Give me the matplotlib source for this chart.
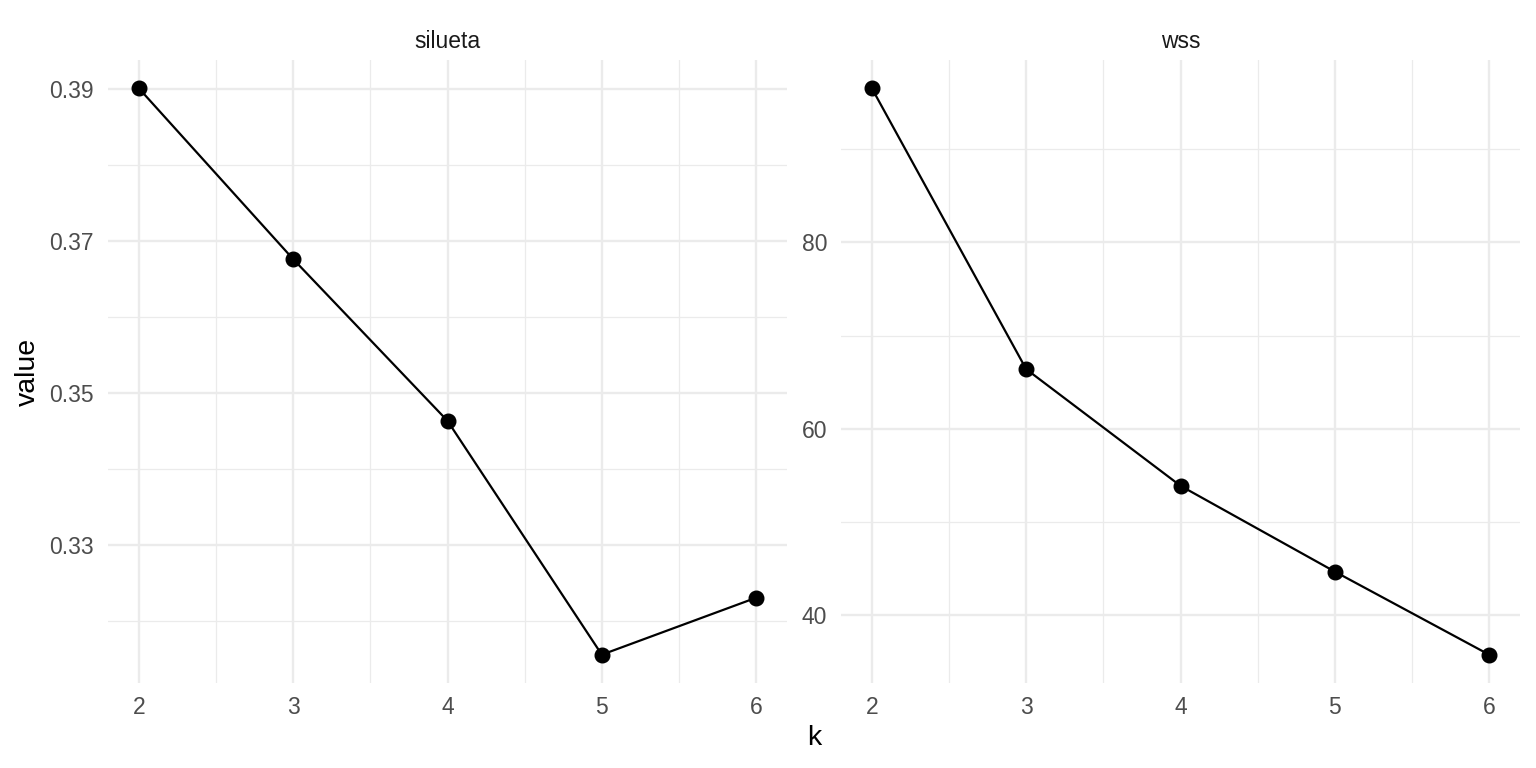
import matplotlib
matplotlib.use("Agg")
import matplotlib.pyplot as plt
from matplotlib.ticker import FixedLocator

plt.rcParams['font.family'] = ['Liberation Sans', 'DejaVu Sans']

k = [2, 3, 4, 5, 6]
silueta = [0.3901, 0.3676, 0.3463, 0.3155, 0.3230]
wss = [96.5, 66.4, 53.9, 44.7, 35.8]

panels = [
    ("silueta", silueta, [0.33, 0.35, 0.37, 0.39], [0.32, 0.34, 0.36, 0.38],
     ["0.33", "0.35", "0.37", "0.39"]),
    ("wss", wss, [40, 60, 80], [50, 70, 90], ["40", "60", "80"]),
]

W, H = 1536, 768
fig = plt.figure(figsize=(W / 100, H / 100), dpi=100)
fig.patch.set_facecolor("white")

# panel boxes in pixels: left, right, top, bottom
boxes = [(108, 787, 60, 683), (841, 1520, 60, 683)]

grid_col = "#EBEBEB"
for (title, vals, majors, minors, labels), (l, r, t, b) in zip(panels, boxes):
    ax = fig.add_axes([l / W, 1 - b / H, (r - l) / W, (b - t) / H])
    lo, hi = min(vals), max(vals)
    pad = (hi - lo) * 0.05
    ax.set_ylim(lo - pad, hi + pad)
    ax.set_xlim(1.8, 6.2)
    ax.set_facecolor("white")
    for s in ax.spines.values():
        s.set_visible(False)
    ax.xaxis.set_major_locator(FixedLocator(k))
    ax.xaxis.set_minor_locator(FixedLocator([2.5, 3.5, 4.5, 5.5]))
    ax.yaxis.set_major_locator(FixedLocator(majors))
    ax.yaxis.set_minor_locator(FixedLocator(minors))
    ax.set_yticklabels(labels)
    ax.grid(which="major", color=grid_col, linewidth=1.7)
    ax.grid(which="minor", color=grid_col, linewidth=0.9)
    ax.set_axisbelow(True)
    ax.tick_params(which="both", length=0, labelsize=16.5, labelcolor="#4D4D4D")
    ax.tick_params(axis="x", pad=9)
    ax.tick_params(axis="y", pad=10)
    ax.plot(k, vals, color="black", linewidth=1.6, zorder=3)
    ax.plot(k, vals, "o", color="black", markersize=10.5, zorder=4)
    ax.set_title(title, fontsize=16.5, color="#1A1A1A", pad=9)

fig.text(28 / W, 1 - 372 / H, "value", rotation=90, ha="center", va="center", fontsize=20.5)
fig.text(814 / W, 1 - 738 / H, "k", ha="center", va="center", fontsize=20.5)

fig.savefig("out.png", dpi=100)
